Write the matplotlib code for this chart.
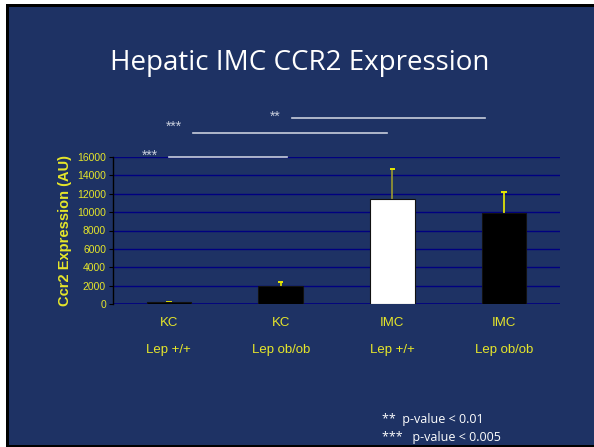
import matplotlib.pyplot as plt
from matplotlib.patches import Rectangle
import numpy as np

# values
cells = ['KC', 'KC', 'IMC', 'IMC']
genotypes = ['Lep +/+', 'Lep ob/ob', 'Lep +/+', 'Lep ob/ob']
ccr2 = [170, 1960, 11430, 9870]
ccr2_err = [80, 470, 3230, 2350]
bar_colors = ['black', 'black', 'white', 'black']
err_colors = ['#E8E800', '#E8E800', '#9A9A30', '#F0F000']
yticks = np.arange(0, 16001, 2000)

# significance brackets: (label, x0, x1, y)
sig_marks = [
    ('***', 0.00, 1.06, 16000),
    ('***', 0.22, 1.95, 18600),
    ('**', 1.10, 2.83, 20250),
]

BG = '#1E3264'
YEL = '#E6E62A'
LINE = '#C8CEDC'

fig = plt.figure(figsize=(5.94, 4.47), dpi=100, facecolor='white')

# slide frame
W, H = 594, 447
fig.patches.append(Rectangle((6 / W, 0), 1, 1 - 4 / H, transform=fig.transFigure,
                             facecolor='black', edgecolor='none', zorder=-2))
fig.patches.append(Rectangle((9 / W, 2 / H), 1, 1 - 9 / H, transform=fig.transFigure,
                             facecolor=BG, edgecolor='none', zorder=-1))

fig.text(0.505, 1 - 63 / H, 'Hepatic IMC CCR2 Expression', color='white',
         fontsize=20, family='Open Sans', ha='center', va='center')

ax = fig.add_axes([113 / W, 143 / H, 447 / W, 147 / H])
ax.set_facecolor('none')

x = np.arange(len(cells))
ax.bar(x, ccr2, width=0.4, color=bar_colors, edgecolor='#111111', linewidth=0.8, zorder=3)
# upper error bars only
for i in range(len(x)):
    top = ccr2[i] + ccr2_err[i]
    ax.vlines(x[i], ccr2[i], top, color=err_colors[i], linewidth=1.2, zorder=2)
    ax.hlines(top, x[i] - 0.025, x[i] + 0.025, color='#E8E800', linewidth=1.4, zorder=2)

ax.set_xlim(-0.5, 3.5)
ax.set_ylim(0, 16000)
ax.set_yticks(yticks)
ax.set_yticklabels([str(v) for v in yticks], color=YEL, fontsize=7.5, family='Liberation Sans')
ax.set_xticks([])
ax.yaxis.grid(True, color='#000080', linewidth=1.0)
ax.set_axisbelow(True)
for s in ['top', 'right', 'bottom']:
    ax.spines[s].set_visible(False)
ax.spines['left'].set_color('black')
ax.spines['left'].set_linewidth(1.0)
ax.tick_params(axis='y', colors='black', length=3, width=0.8, pad=2, labelcolor=YEL)
ax.axhline(0, color='#000080', linewidth=1.2, zorder=2)

ax.set_ylabel('Ccr2 Expression (AU)', color=YEL, fontsize=10.5, fontweight='bold',
              family='Liberation Sans', labelpad=4)

for i in range(len(x)):
    ax.text(x[i], -0.129, cells[i], transform=ax.get_xaxis_transform(), color=YEL,
            fontsize=9.5, family='Liberation Sans', ha='center', va='center')
    ax.text(x[i], -0.313, genotypes[i], transform=ax.get_xaxis_transform(), color=YEL,
            fontsize=9.5, family='Liberation Sans', ha='center', va='center')

for label, x0, x1, yv in sig_marks:
    ax.plot([x0, x1], [yv, yv], color=LINE, linewidth=1.2, clip_on=False)
    dy = 700 if label == '***' and yv > 17000 else 150
    ax.text(x0 - 0.1, yv + dy, label, color=LINE, fontsize=10,
            family='Liberation Sans', ha='right', va='center')

fig.text(382 / W, 1 - 419 / H, '**  p-value < 0.01', color='white', fontsize=9,
         family='Open Sans', ha='left', va='center')
fig.text(382 / W, 1 - 437 / H, '***   p-value < 0.005', color='white', fontsize=9,
         family='Open Sans', ha='left', va='center')

fig.savefig('out.png', dpi=100, facecolor='white')
